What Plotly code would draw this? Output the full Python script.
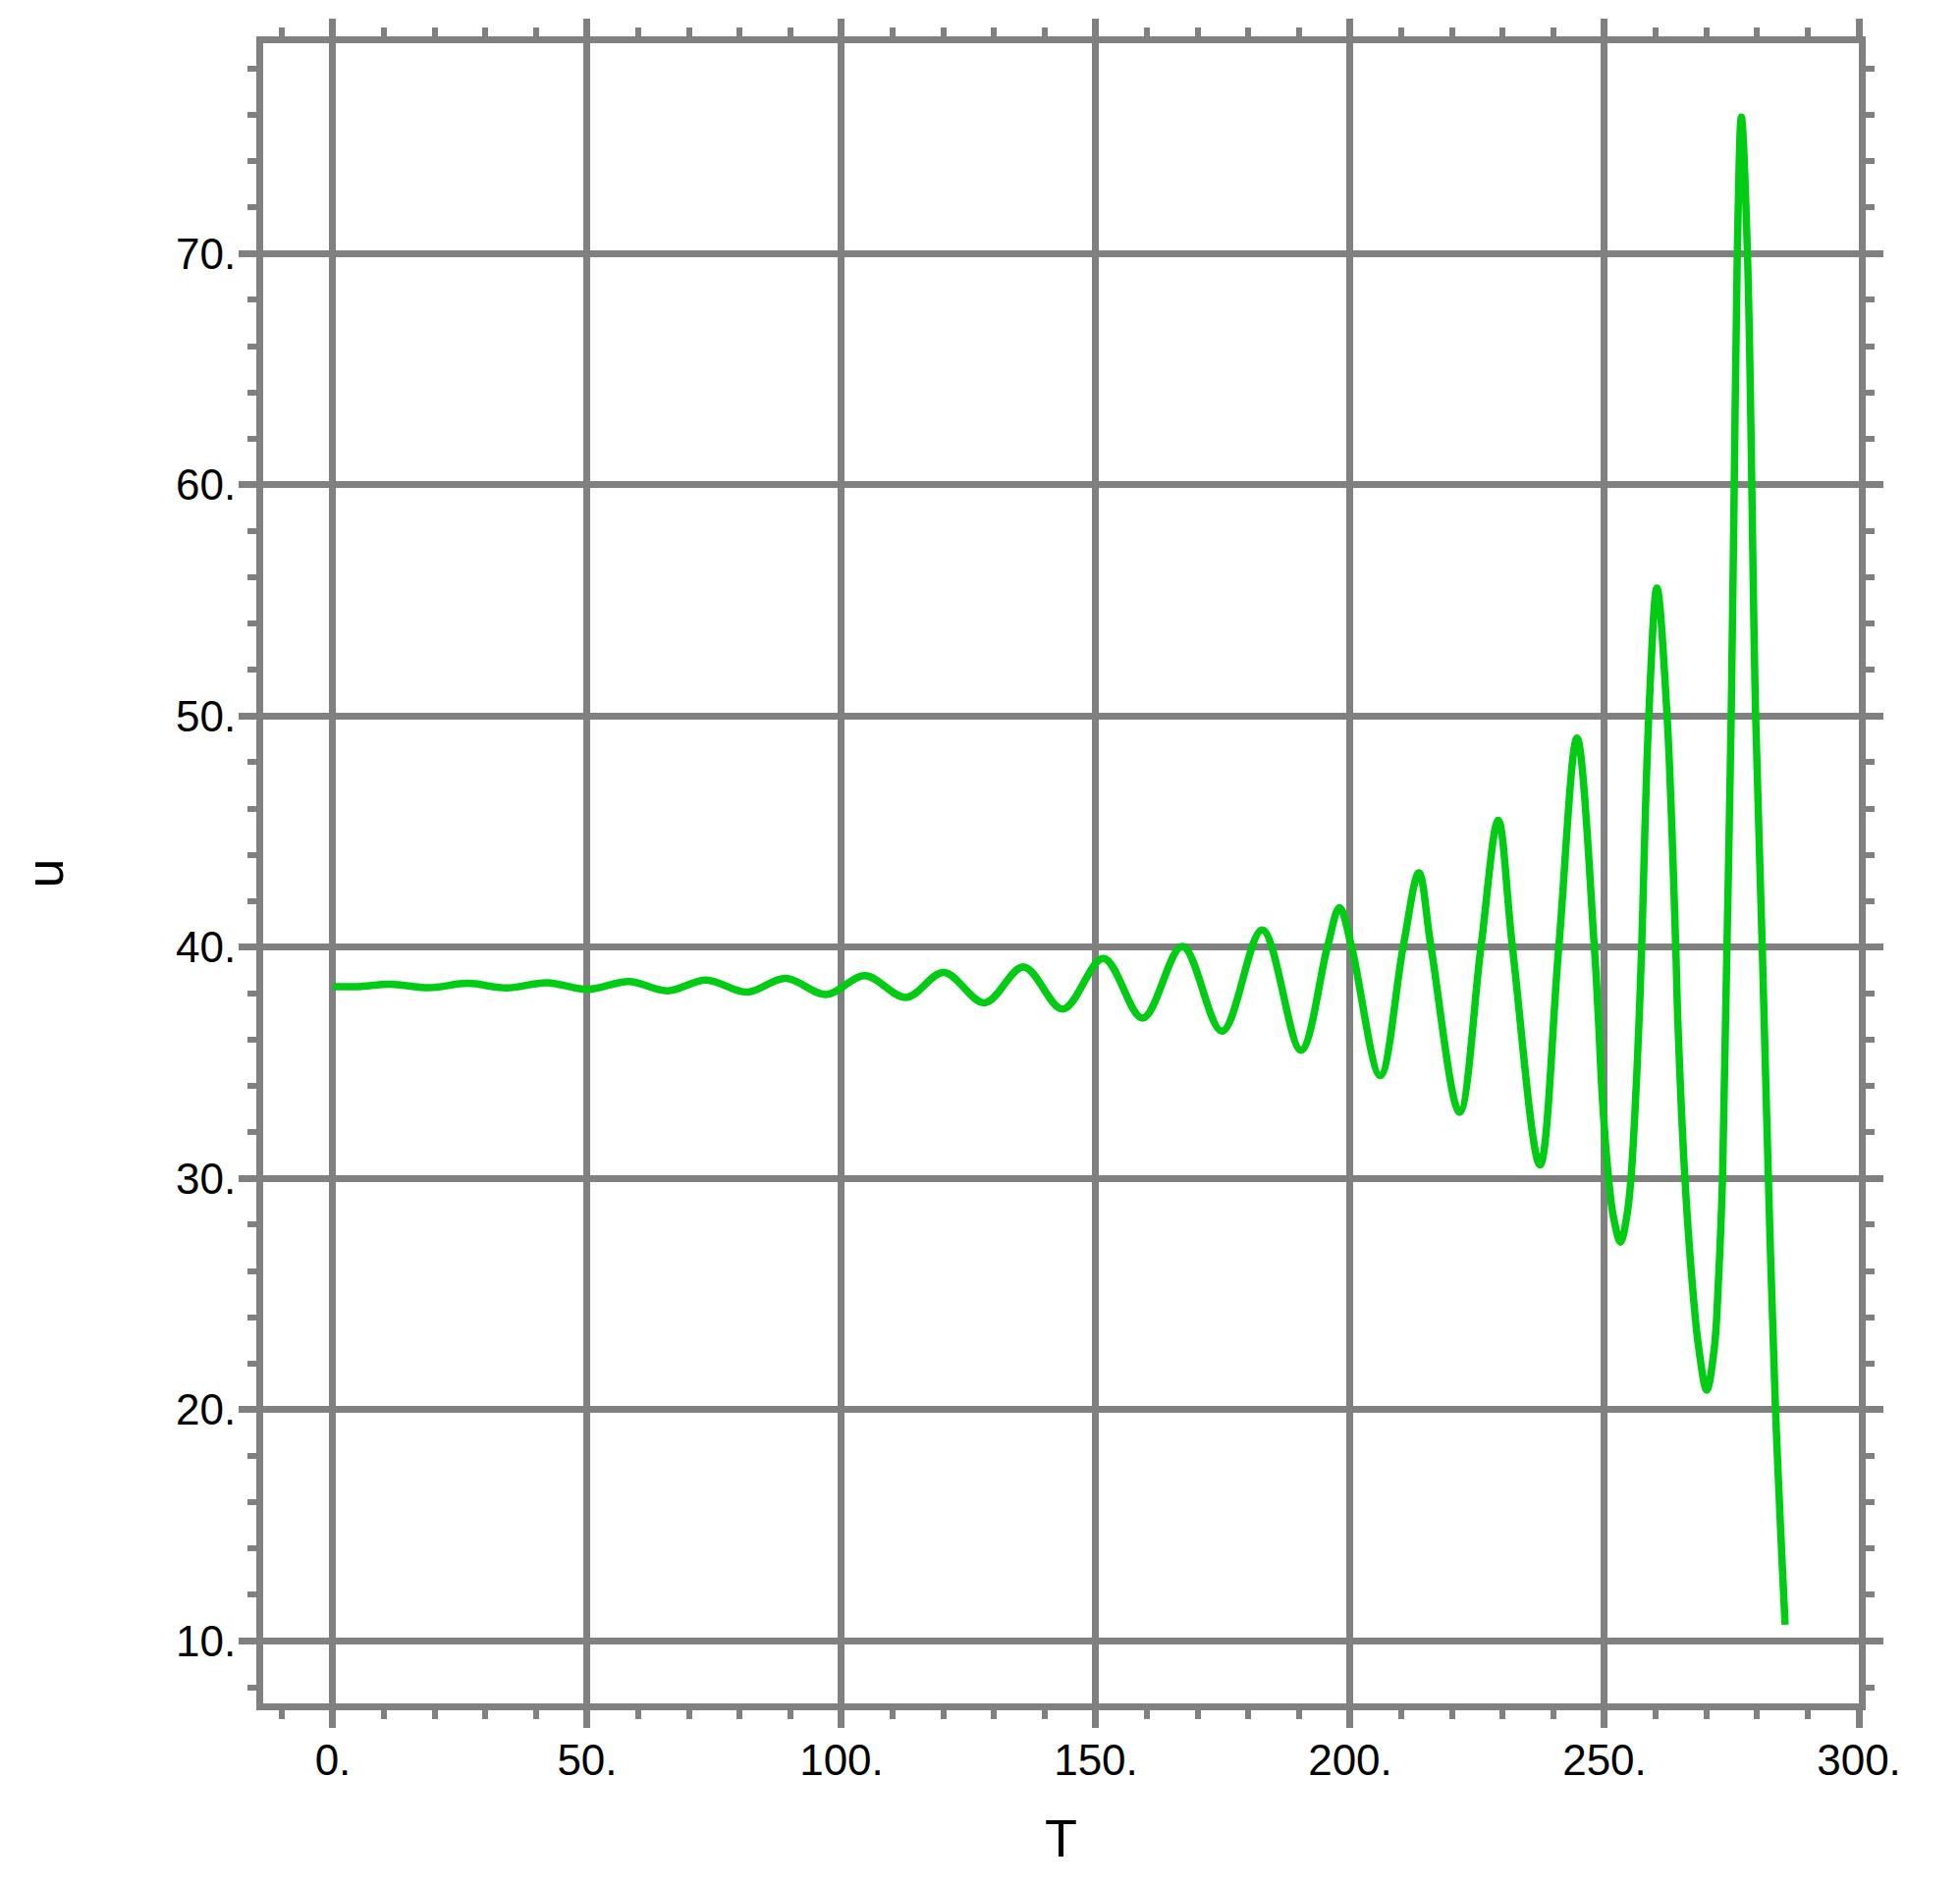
import plotly.graph_objects as go

GRAY = "#808080"
GREEN = "#00cc14"

# curve (extrema + crossing points)
t_vals = [
    0, 5, 11.3, 18.9, 26.5, 34.1, 42.1, 50.2, 58.2, 65.8, 73.4, 81.4, 89.0, 97.0,
    104.6, 112.7, 120.1, 128.1, 135.8, 143.5, 151.5, 159.2, 167.0, 174.8, 182.7,
    190.3, 195.5, 197.9, 200.3, 205.9, 210.4, 213.5, 215.9, 221.5, 225.7, 229.1,
    231.9, 237.3, 241.0, 244.6, 248.0, 248.8, 249.6, 250.8, 251.7, 253.15, 254.4,
    255.2, 256.1, 256.8, 257.3, 258.7, 260.3, 262.3, 264.0, 264.4, 265.8, 267.2,
    268.5, 270.1, 271.6, 272.4, 273.2, 273.8, 274.9, 275.5, 276.1, 276.9, 278.1,
    279.7, 281.0, 282.2, 283.6, 285.5,
]
u_vals = [
    38.30, 38.30, 38.40, 38.25, 38.44, 38.24, 38.47, 38.18, 38.52, 38.12, 38.58,
    38.06, 38.66, 37.96, 38.77, 37.83, 38.91, 37.60, 39.15, 37.33, 39.52, 36.94,
    40.04, 36.37, 40.75, 35.55, 40.0, 41.71, 40.0, 34.45, 40.0, 43.22, 40.0, 32.86,
    40.0, 45.49, 40.0, 30.59, 40.0, 49.05, 40.0, 36.9, 33.4, 30.0, 28.4, 27.25,
    28.4, 30.0, 33.4, 36.9, 40.0, 50.0, 55.53, 50.0, 40.0, 36.9, 30.0, 25.6, 22.7,
    20.85, 22.7, 25.6, 30.0, 36.9, 50.0, 60.0, 70.0, 75.9, 70.0, 50.1, 40.06, 30.1,
    20.1, 10.7,
]

x_ticks = [0, 50, 100, 150, 200, 250, 300]
x_labels = ["0.", "50.", "100.", "150.", "200.", "250.", "300."]
y_ticks = [10, 20, 30, 40, 50, 60, 70]
y_labels = ["10.", "20.", "30.", "40.", "50.", "60.", "70."]

fig = go.Figure(
    go.Scatter(
        x=t_vals,
        y=u_vals,
        mode="lines",
        line=dict(color=GREEN, width=7.5, shape="spline", smoothing=1.0),
        showlegend=False,
    )
)

axis_common = dict(
    showline=True,
    linecolor=GRAY,
    linewidth=7,
    mirror="allticks",
    ticks="outside",
    ticklen=18,
    tickwidth=7,
    tickcolor=GRAY,
    showgrid=True,
    gridcolor=GRAY,
    gridwidth=7,
    zeroline=False,
    tickfont=dict(family="Liberation Sans, Arial", size=44, color="black"),
)

fig.update_xaxes(
    **axis_common,
    range=[-13.7, 300],
    tickvals=x_ticks,
    ticktext=x_labels,
    ticklabelstandoff=-5,
    minor=dict(dtick=10, tick0=0, ticks="outside", ticklen=9, tickwidth=6,
               tickcolor=GRAY, showgrid=False),
    title=dict(text="T", font=dict(family="Liberation Sans, Arial", size=54, color="black"),
               standoff=40),
)
fig.update_yaxes(
    **axis_common,
    range=[7.30, 79.1],
    tickvals=y_ticks,
    ticktext=y_labels,
    ticklabelstandoff=-6,
    minor=dict(dtick=2, tick0=0, ticks="outside", ticklen=9, tickwidth=6,
               tickcolor=GRAY, showgrid=False),
    title=dict(text="u", font=dict(family="Liberation Sans, Arial", size=54, color="black"),
               standoff=100),
)

# the page body adds 8px, so the margins are shifted to compensate
fig.update_layout(
    width=1996,
    height=1921,
    margin=dict(l=260, r=111, t=36, b=194),
    plot_bgcolor="white",
    paper_bgcolor="white",
)

fig.write_html("out.html")
